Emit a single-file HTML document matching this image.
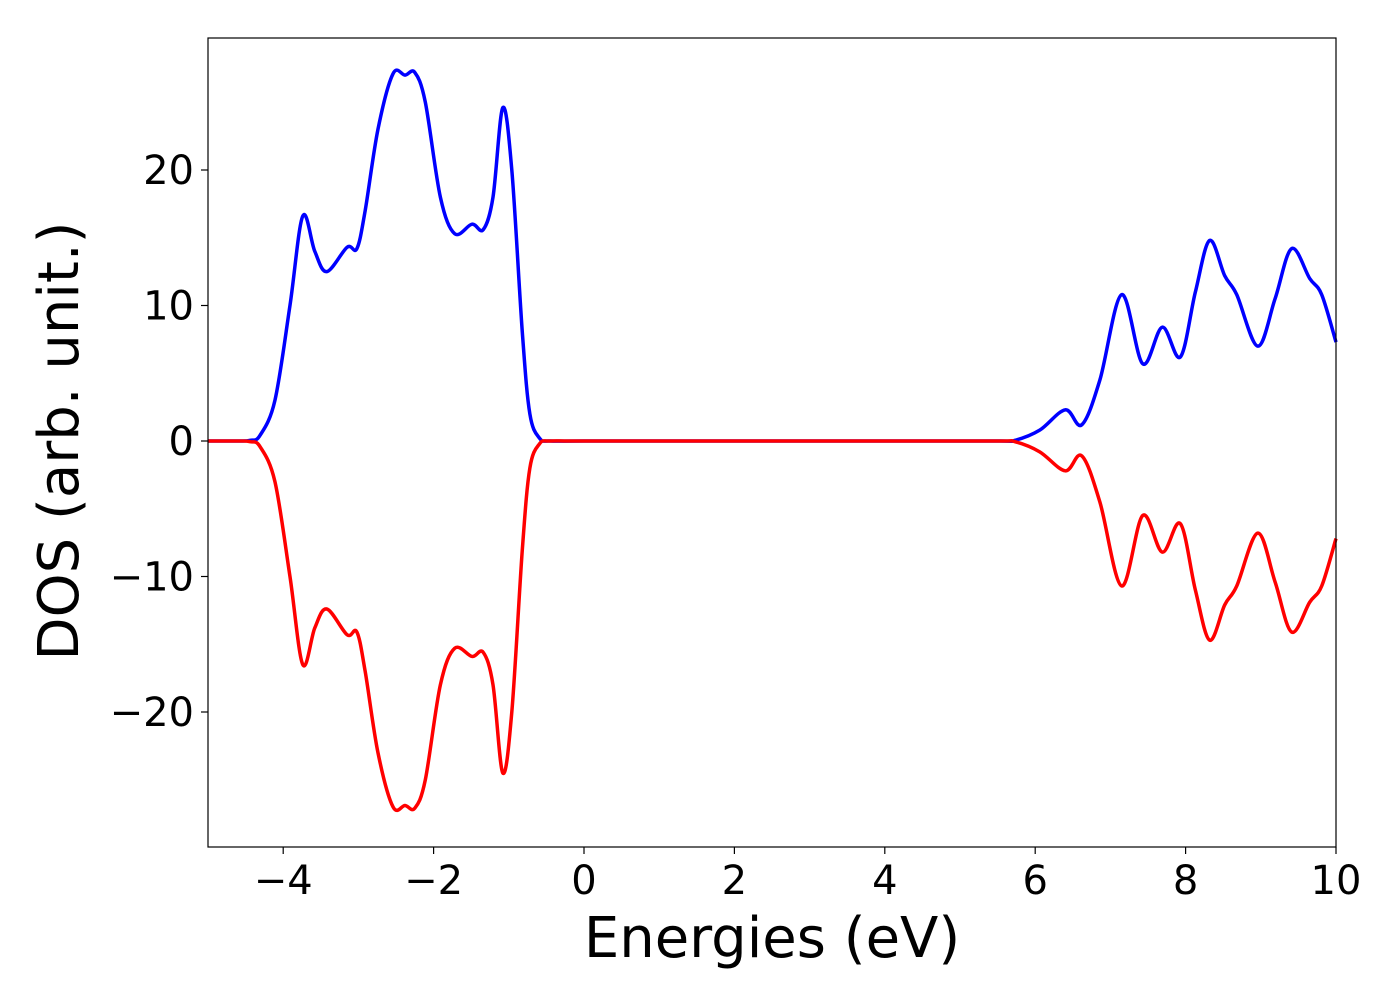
<!DOCTYPE html>
<html><head><meta charset="utf-8"><style>
html,body{margin:0;padding:0;background:#fff;}
svg{display:block;font-family:"DejaVu Sans","Liberation Sans",sans-serif;}
</style></head><body>
<svg id="chart" width="1400" height="1000">
<rect x="208" y="38" width="1128" height="809" fill="#fff"/>
<g id="curves"></g>
<rect x="208" y="38" width="1128" height="809" fill="none" stroke="#000" stroke-width="1.2"/>
<g id="ticks"></g>
<text x="772" y="957" font-size="56" text-anchor="middle">Energies (eV)</text>
<text transform="translate(78,441) rotate(-90)" font-size="56" text-anchor="middle">DOS (arb. unit.)</text>
</svg>
<script>
const energies = [-5,-4.6,-4.44,-4.31,-4.11,-3.91,-3.74,-3.58,-3.42,-3.15,-3.02,-2.91,-2.74,-2.54,-2.38,-2.25,-2.11,-1.91,-1.72,-1.49,-1.34,-1.21,-1.08,-0.96,-0.82,-0.72,-0.59,-0.45,0,2,4,5.5,5.73,6.06,6.40,6.62,6.86,7.15,7.43,7.69,7.93,8.13,8.32,8.52,8.68,8.96,9.19,9.41,9.65,9.81,10];
const dosUp = [0,0,0.05,0.4,3,10,16.6,14,12.5,14.3,14.2,17,23,27.1,27.0,27.2,25,18,15.3,16.0,15.6,18,24.6,20,8,2,0.2,0,0,0,0,0,0.05,0.8,2.3,1.2,4.5,10.8,5.7,8.4,6.2,11,14.8,12.2,10.8,7,10.5,14.2,12.0,10.8,7.3];
const dosDown = [0,0,-0.05,-0.4,-3,-10,-16.5,-13.8,-12.4,-14.3,-14.1,-17,-23,-27.0,-26.9,-27.1,-25,-18,-15.3,-15.9,-15.6,-18,-24.5,-20,-8,-2,-0.2,0,0,0,0,0,-0.05,-0.8,-2.2,-1.1,-4.5,-10.7,-5.5,-8.2,-6.1,-11,-14.7,-12.1,-10.7,-6.8,-10.4,-14.1,-11.9,-10.7,-7.2];
const xTicks = [-4,-2,0,2,4,6,8,10];
const yTicks = [-20,-10,0,10,20];

const X = e => 208 + (e + 5) * 75.2;
const Y = v => 441 - v * 13.55;
const NS = "http://www.w3.org/2000/svg";

function pathFor(xs, ys){
  const p = xs.map((e,i)=>[X(e),Y(ys[i])]);
  let d = "M"+p[0][0]+","+p[0][1];
  for(let i=0;i<p.length-1;i++){
    const p0=p[i-1]||p[i], p1=p[i], p2=p[i+1], p3=p[i+2]||p[i+1];
    const t=6;
    let c1=[p1[0]+(p2[0]-p0[0])/t, p1[1]+(p2[1]-p0[1])/t];
    let c2=[p2[0]-(p3[0]-p1[0])/t, p2[1]-(p3[1]-p1[1])/t];
    d+=" C"+c1[0]+","+c1[1]+" "+c2[0]+","+c2[1]+" "+p2[0]+","+p2[1];
  }
  return d;
}
const g = document.getElementById("curves");
const up = document.createElementNS(NS,"path");
up.setAttribute("d", pathFor(energies, dosUp));
up.setAttribute("fill","none"); up.setAttribute("stroke","#0000ff"); up.setAttribute("stroke-width","3.5");


g.appendChild(up);
const dn = document.createElementNS(NS,"path");
dn.setAttribute("d", pathFor(energies, dosDown));
dn.setAttribute("fill","none"); dn.setAttribute("stroke","#ff0000"); dn.setAttribute("stroke-width","3.5");


g.appendChild(dn);

const tg = document.getElementById("ticks");
const fmt = v => v < 0 ? "\u2212" + Math.abs(v) : String(v);
xTicks.forEach(v=>{
  const l=document.createElementNS(NS,"line");
  l.setAttribute("x1",X(v)); l.setAttribute("x2",X(v)); l.setAttribute("y1",847); l.setAttribute("y2",854);
  l.setAttribute("stroke","#000"); l.setAttribute("stroke-width","1.2");
  
  
  tg.appendChild(l);
  const t=document.createElementNS(NS,"text");
  t.setAttribute("x",X(v)); t.setAttribute("y",894); t.setAttribute("font-size","40"); t.setAttribute("text-anchor","middle");
  t.textContent=fmt(v);
  
  
  tg.appendChild(t);
});
yTicks.forEach(v=>{
  const l=document.createElementNS(NS,"line");
  l.setAttribute("x1",201); l.setAttribute("x2",208); l.setAttribute("y1",Y(v)); l.setAttribute("y2",Y(v));
  l.setAttribute("stroke","#000"); l.setAttribute("stroke-width","1.2");
  
  
  tg.appendChild(l);
  const t=document.createElementNS(NS,"text");
  t.setAttribute("x",194); t.setAttribute("y",Y(v)+14); t.setAttribute("font-size","40"); t.setAttribute("text-anchor","end");
  t.textContent=fmt(v);
  
  
  tg.appendChild(t);
});
</script>
</body></html>
